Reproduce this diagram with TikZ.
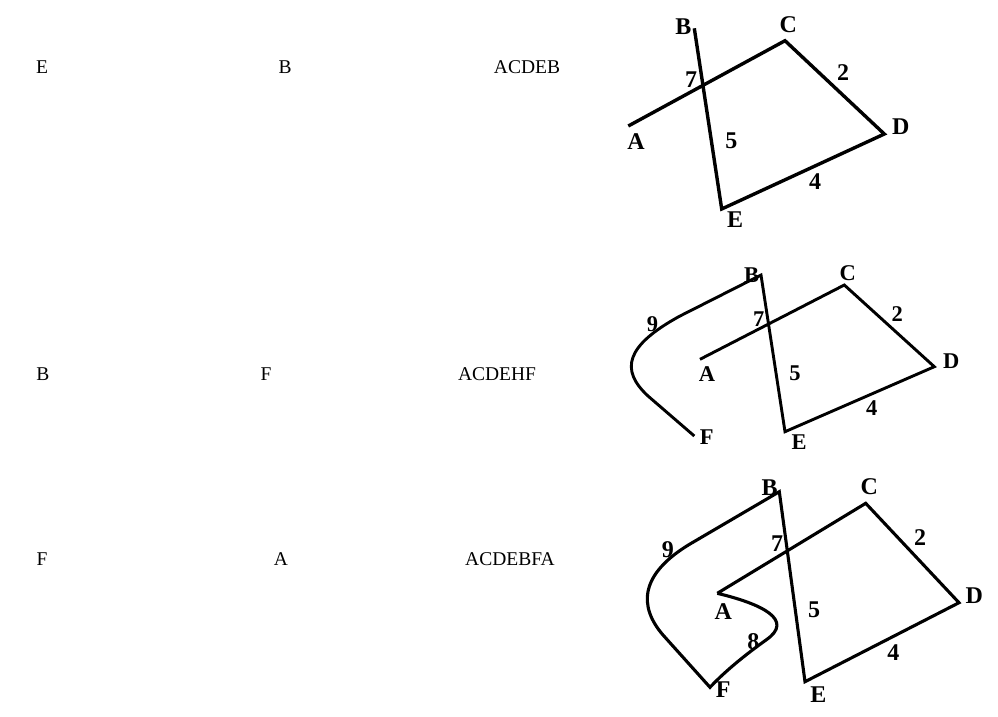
\documentclass[tikz,border=0pt]{standalone}
\usepackage{fontspec}
\setmainfont{Liberation Serif}
\begin{document}
\begin{tikzpicture}[x=1pt,y=-1pt,
  plain/.style={inner sep=0pt,font=\fontsize{19.5}{22}\selectfont},
  lblA/.style={inner sep=0pt,font=\fontsize{24}{26}\selectfont\bfseries},
  lblB/.style={inner sep=0pt,font=\fontsize{22.5}{25}\selectfont\bfseries},
  edge1/.style={line width=3.4pt,line join=miter},
  edge2/.style={line width=2.9pt,line join=miter},
  edge3/.style={line width=3.1pt,line join=miter}]
\useasboundingbox[fill=white] (0,0) rectangle (998,716);

% left texts
\node[plain] (t11) at (42,67) {E};
\node[plain] (t12) at (285,67) {B};
\node[plain] (t13) at (527,67) {ACDEB};
\node[plain] (t21) at (43,374) {B};
\node[plain] (t22) at (266,374) {F};
\node[plain] (t23) at (497,374) {ACDEHF};
\node[plain] (t31) at (42,559) {F};
\node[plain] (t32) at (281,559) {A};
\node[plain] (t33) at (510,559) {ACDEBFA};

% diagram 1
\coordinate (a1) at (628.3,126);
\coordinate (c1) at (785,40.7);
\coordinate (d1) at (884.3,134);
\coordinate (e1) at (721.7,209);
\coordinate (b1) at (694.3,28.3);
\draw[edge1] (a1) -- (c1) -- (d1) -- (e1) -- (b1);
\node[lblA] (la1) at (636,141.7) {A};
\node[lblA] (lb1) at (683.3,26.7) {B};
\node[lblA] (lc1) at (788.3,25) {C};
\node[lblA] (ld1) at (900.8,126.7) {D};
\node[lblA] (le1) at (735,220) {E};
\node[lblA] (n71) at (691,79.5) {7};
\node[lblA] (n21) at (843,72.5) {2};
\node[lblA] (n51) at (731.3,140.8) {5};
\node[lblA] (n41) at (815,181.7) {4};

% diagram 2
\coordinate (a2) at (700,359.3);
\coordinate (c2) at (844.3,285);
\coordinate (d2) at (934.3,366.7);
\coordinate (e2) at (785,431.7);
\coordinate (b2) at (761,275);
\coordinate (f2) at (694.3,436);
\coordinate (p2) at (680,316);
\coordinate (q2) at (648,396);
\draw[edge2] (a2) -- (c2) -- (d2) -- (e2) -- (b2) -- (p2)
  .. controls (625,346) and (620,370) .. (q2) -- (f2);
\node[lblB] (la2) at (707,374.5) {A};
\node[lblB] (lb2) at (751.7,275) {B};
\node[lblB] (lc2) at (847.7,273) {C};
\node[lblB] (ld2) at (951.3,360.7) {D};
\node[lblB] (le2) at (799,442) {E};
\node[lblB] (lf2) at (706.7,437.5) {F};
\node[lblB] (n92) at (652.5,324) {9};
\node[lblB] (n72) at (758.7,318.8) {7};
\node[lblB] (n22) at (897.2,313.7) {2};
\node[lblB] (n52) at (795,373.7) {5};
\node[lblB] (n42) at (871.7,408.3) {4};

% diagram 3
\coordinate (a3) at (717.3,593.3);
\coordinate (c3) at (865.7,503.3);
\coordinate (d3) at (959,602.7);
\coordinate (e3) at (805,681.7);
\coordinate (b3) at (779.3,491.7);
\coordinate (f3) at (710,687.3);
\coordinate (p3) at (690,544);
\coordinate (q3) at (663,635);
\coordinate (r3) at (766,640);
\draw[edge3] (a3) -- (c3) -- (d3) -- (e3) -- (b3) -- (p3)
  .. controls (640,574) and (638,606) .. (q3) -- (f3)
  .. controls (728,668) and (752,650) .. (r3)
  .. controls (795,620) and (762,604) .. (a3);
\node[lblA] (la3) at (723.3,611.7) {A};
\node[lblA] (lb3) at (769.7,487.5) {B};
\node[lblA] (lc3) at (869.2,486.2) {C};
\node[lblA] (ld3) at (974.2,595.8) {D};
\node[lblA] (le3) at (818.3,694.2) {E};
\node[lblA] (lf3) at (723.3,689.5) {F};
\node[lblA] (n93) at (667.8,550) {9};
\node[lblA] (n73) at (777,543.3) {7};
\node[lblA] (n23) at (920,537.5) {2};
\node[lblA] (n53) at (814.2,609.5) {5};
\node[lblA] (n83) at (753.3,641.7) {8};
\node[lblA] (n43) at (893.3,652.5) {4};
\end{tikzpicture}
\end{document}
